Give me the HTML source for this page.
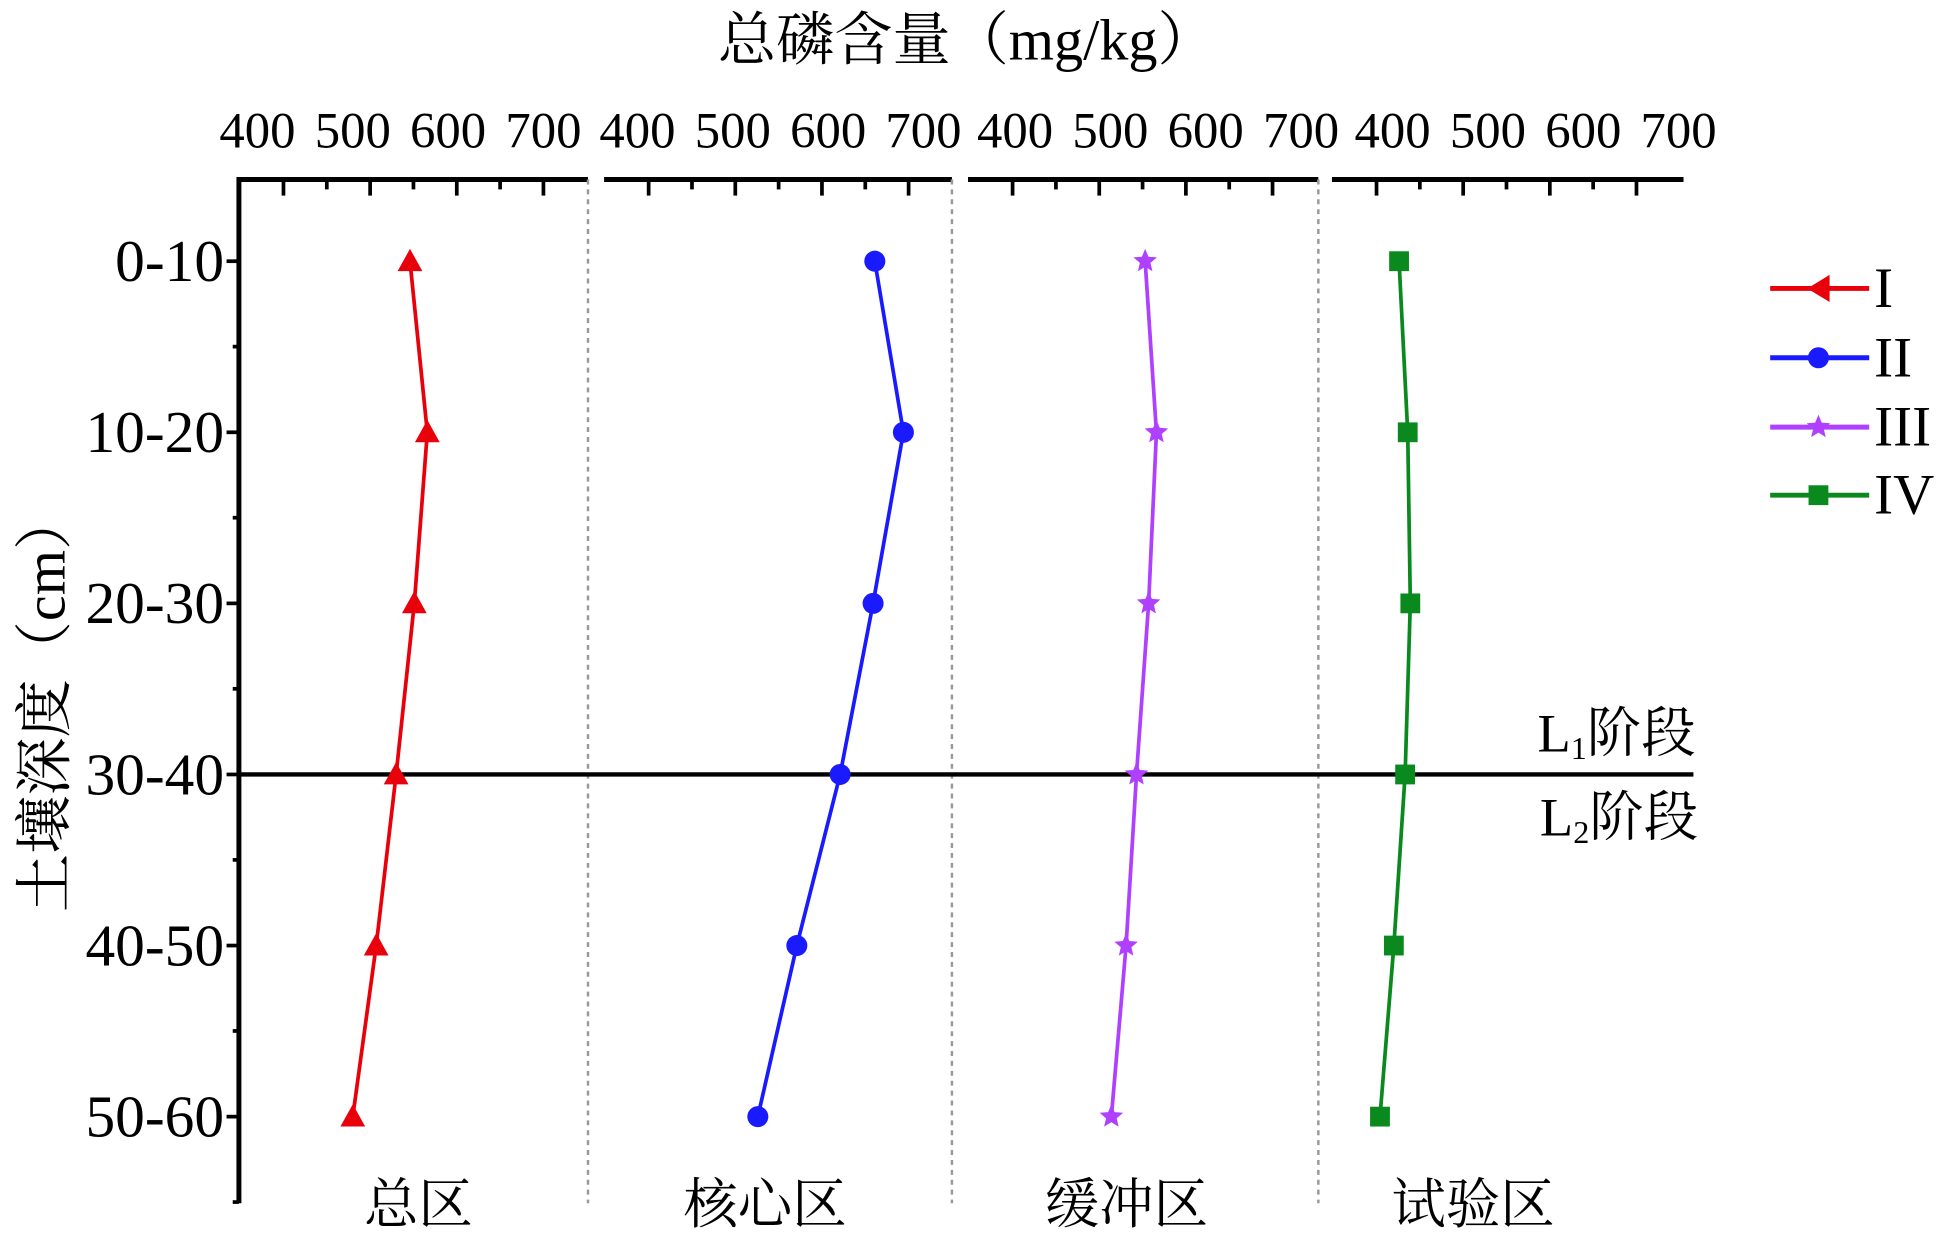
<!DOCTYPE html>
<html><head><meta charset="utf-8"><style>
html,body{margin:0;padding:0;background:#fff;}
svg{display:block;}
text{font-family:"Liberation Serif","Noto Serif CJK SC",serif;fill:#000;}
</style></head><body>
<svg id="chart" width="1941" height="1246" viewBox="0 0 1568 1006.5" preserveAspectRatio="none" xmlns="http://www.w3.org/2000/svg">
<g id="g"></g>
</svg>
<script>
const depthLabels = ["0-10","10-20","20-30","30-40","40-50","50-60"];
const panelNames = ["总区","核心区","缓冲区","试验区"];
const tickLabels = [400,500,600,700];
const seriesNames = ["I","II","III","IV"];
const seriesI = [546,566,551,530,507,480];
const seriesII = [661,694,659,621,571,526];
const seriesIII = [553,566,557,543,531,514];
const seriesIV = [426,436,439,433,420,404];
const allSeries=[seriesI,seriesII,seriesIII,seriesIV];
const colors=["#e8000b","#1a1aff","#b040ff","#0a8a1e"];
const markers=["tri","circle","star","square"];
const panelStart=[193,488,782,1076];
const panelEnd=[475,769,1065,1360];
const labelStart=[208,515,820,1125];
const nameCenter=[338,618,910,1190];
const NS="http://www.w3.org/2000/svg";
const g=document.getElementById('g');
function el(t,a,p){const e=document.createElementNS(NS,t);for(const k in a)e.setAttribute(k,a[k]);(p||g).appendChild(e);return e;}
function xS(p,v){return panelStart[p]+36+(v-400)*0.70;}
function yS(i){return 211+i*138.2;}
let t=el('text',{x:781,y:48,'font-size':47,'text-anchor':'middle'});t.textContent="总磷含量（mg/kg）";

t=el('text',{x:0,y:0,'font-size':47,'text-anchor':'middle',transform:'translate(52,567) rotate(-90)'});t.textContent="土壤深度（cm）";

let a=el('line',{x1:193,y1:143,x2:193,y2:972,stroke:'#000','stroke-width':4});

depthLabels.forEach((d,i)=>{
 el('line',{x1:183,y1:yS(i),x2:193,y2:yS(i),stroke:'#000','stroke-width':3});
 el('line',{x1:188,y1:yS(i)+69,x2:193,y2:yS(i)+69,stroke:'#000','stroke-width':3});
 const tx=el('text',{x:181,y:yS(i)+16,'font-size':48,'text-anchor':'end'});tx.textContent=d;
 
});
for(let p=0;p<4;p++){
 const ax=el('line',{x1:panelStart[p],y1:145,x2:panelEnd[p],y2:145,stroke:'#000','stroke-width':4});
 
 for(let v=400;v<=700;v+=50){const x=xS(p,v);el('line',{x1:x,y1:145,x2:x,y2:v%100?153:158,stroke:'#000','stroke-width':3});}
 tickLabels.forEach((v,k)=>{const tx=el('text',{x:labelStart[p]+k*77,y:119,'font-size':41,'text-anchor':'middle'});tx.textContent=v;
  });
 if(p<3){const dl=el('line',{x1:panelEnd[p],y1:145,x2:panelEnd[p],y2:972,stroke:'#999','stroke-width':2,'stroke-dasharray':'4,4'});
  }
 const pn=el('text',{x:nameCenter[p],y:988,'font-size':44,'text-anchor':'middle'});pn.textContent=panelNames[p];
 
}
let sl=el('line',{x1:193,y1:yS(3),x2:1368,y2:yS(3),stroke:'#000','stroke-width':3.5});

t=el('text',{x:1242,y:607,'font-size':44});t.innerHTML='L<tspan font-size="26" dy="6">1</tspan><tspan dy="-6">阶段</tspan>';

t=el('text',{x:1244,y:675,'font-size':44});t.innerHTML='L<tspan font-size="26" dy="6">2</tspan><tspan dy="-6">阶段</tspan>';

function marker(type,x,y,c,s,parent){
 if(type=='tri')return el('polygon',{points:`${x},${y-s} ${x-s},${y+s*0.8} ${x+s},${y+s*0.8}`,fill:c},parent);
 if(type=='circle')return el('circle',{cx:x,cy:y,r:s*0.85,fill:c},parent);
 if(type=='square')return el('rect',{x:x-s*0.8,y:y-s*0.8,width:s*1.6,height:s*1.6,fill:c},parent);
 let pts=[];for(let k=0;k<10;k++){const r=k%2?s*0.45:s;const an=-Math.PI/2+k*Math.PI/5;pts.push((x+r*Math.cos(an))+','+(y+r*Math.sin(an)));}
 return el('polygon',{points:pts.join(' '),fill:c},parent);
}
allSeries.forEach((s,p)=>{
 const grp=el('g',{});
 
 el('polyline',{points:s.map((v,i)=>xS(p,v)+','+yS(i)).join(' '),fill:'none',stroke:colors[p],'stroke-width':3},grp);
 s.forEach((v,i)=>{const m=marker(markers[p],xS(p,v),yS(i),colors[p],10,grp);
  });
});
seriesNames.forEach((n,k)=>{
 const y=[233,289,345,400][k];const lg=el('g',{});
 
 el('line',{x1:1430,y1:y,x2:1510,y2:y,stroke:colors[k],'stroke-width':4},lg);
 if(markers[k]=='tri')el('polygon',{points:`${1460},${y} ${1478},${y-11} ${1478},${y+11}`,fill:colors[k]},lg);else marker(markers[k],1469,y,colors[k],10,lg);
 const tx=el('text',{x:1514,y:y+15,'font-size':46},lg);tx.textContent=n;
});
</script>
</body></html>
